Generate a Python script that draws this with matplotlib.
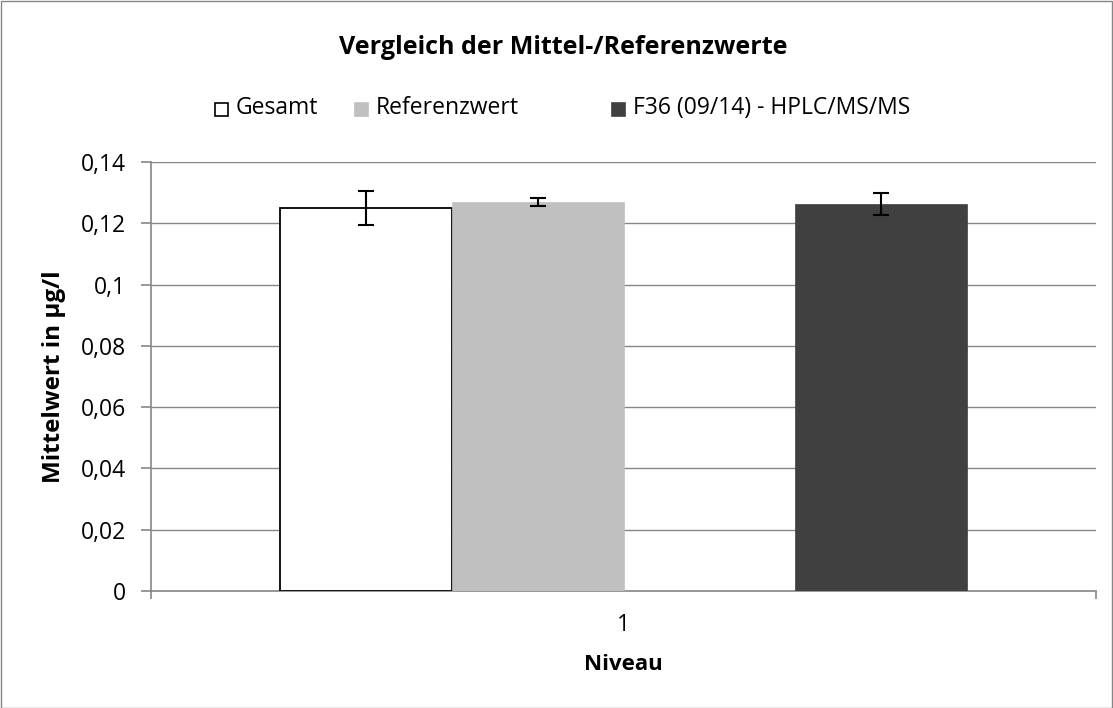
import matplotlib
matplotlib.use("Agg")
import matplotlib.pyplot as plt
from matplotlib.patches import Rectangle

plt.rcParams['font.family'] = ['Open Sans', 'DejaVu Sans']

categories = ["1"]
series_names = ["Gesamt", "Referenzwert", "", "F36 (09/14) - HPLC/MS/MS"]
values = [0.125, 0.1269, 0.0, 0.1263]
errors = [0.0056, 0.0013, 0.0, 0.0037]
face_colors = ["#FFFFFF", "#C0C0C0", "#C0C0C0", "#404040"]
edge_colors = ["#000000", "#C0C0C0", "#C0C0C0", "#404040"]
yticks = [0, 0.02, 0.04, 0.06, 0.08, 0.1, 0.12, 0.14]
ytick_labels = ["0", "0,02", "0,04", "0,06", "0,08", "0,1", "0,12", "0,14"]

W, H = 1113, 708
fig = plt.figure(figsize=(W / 100, H / 100), dpi=100)
fig.patches.append(Rectangle((0.5 / W, 0.5 / H), 1 - 1.5 / W, 1 - 1.5 / H,
                             transform=fig.transFigure, fill=False,
                             edgecolor="#868686", linewidth=1))

ax = fig.add_axes([151 / W, 117 / H, 945 / W, 429 / H])
ax.set_xlim(-0.5, 0.5)
ax.set_ylim(0, 0.14)

w = 0.182
offsets = [-1.5 * w, -0.5 * w, 0.5 * w, 1.5 * w]
for i in range(len(values)):
    ax.bar(offsets[i], values[i], width=w, color=face_colors[i],
           edgecolor=edge_colors[i], linewidth=1.3 if i == 0 else 0.5, zorder=3)
    if errors[i] > 0:
        ax.errorbar(offsets[i], values[i], yerr=errors[i], fmt='none',
                    ecolor='black', elinewidth=1.5, capsize=6, capthick=1.5, zorder=4)

ax.set_yticks(yticks)
ax.set_yticklabels(ytick_labels, fontsize=16.5)
ax.yaxis.grid(True, color="#868686", linewidth=1)
ax.set_axisbelow(True)
for s in ["top", "right"]:
    ax.spines[s].set_visible(False)
for s in ["left", "bottom"]:
    ax.spines[s].set_color("#868686")
    ax.spines[s].set_linewidth(1.2)
ax.tick_params(axis='y', length=7, color="#868686", width=1.2, pad=11)
ax.set_xticks([-0.5, 0.5])
ax.set_xticklabels(["", ""])
ax.tick_params(axis='x', length=6, color="#868686", width=1.2)
fig.text(623 / W, 1 - 625 / H, categories[0], ha='center', va='center', fontsize=16.5)

ax.set_ylabel("Mittelwert in µg/l", fontsize=17.5, fontweight='bold')
ax.yaxis.set_label_coords(-(151 - 66) / 945, 0.5)
fig.text(623 / W, 1 - 665 / H, "Niveau", ha='center', va='center',
         fontsize=16, fontweight='bold')
fig.text(563 / W, 1 - 48 / H, "Vergleich der Mittel-/Referenzwerte", ha='center',
         va='center', fontsize=18, fontweight='bold')

# legend
legend_x = [215, 355, 612]
leg_items = [0, 1, 3]
for x, i in zip(legend_x, leg_items):
    fig.patches.append(Rectangle((x / W, 1 - 116 / H), 13 / W, 13 / H,
                                 transform=fig.transFigure,
                                 facecolor=face_colors[i],
                                 edgecolor="#000000" if i == 0 else face_colors[i],
                                 linewidth=1.2))
    fig.text((x + 21) / W, 1 - 108 / H, series_names[i], ha='left', va='center',
             fontsize=16.5)

fig.savefig("out.png", dpi=100)
